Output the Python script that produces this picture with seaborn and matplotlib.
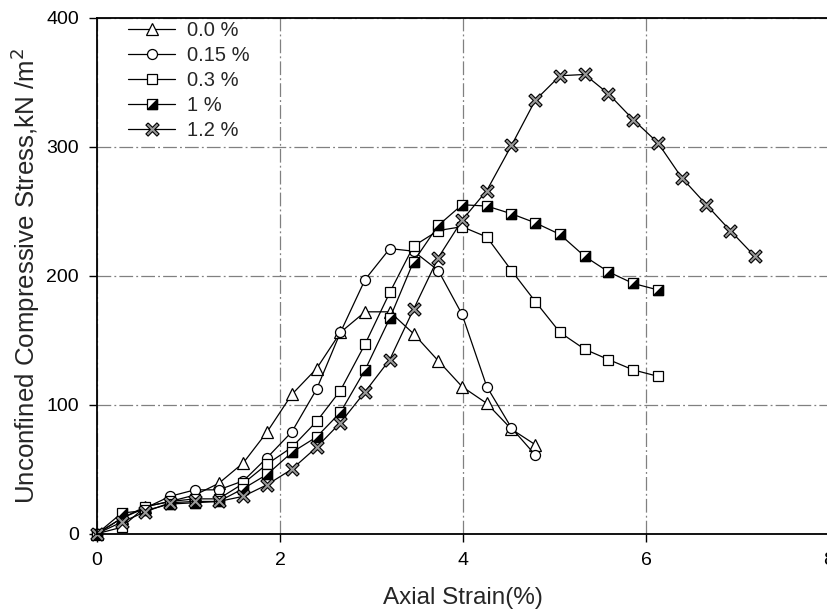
import numpy as np
import matplotlib
matplotlib.use("Agg")
import matplotlib.pyplot as plt
import seaborn as sns
from matplotlib.lines import Line2D

# ---- data ----
strain = [0.00, 0.27, 0.53, 0.80, 1.07, 1.33, 1.60, 1.86, 2.13, 2.40, 2.66, 2.93,
          3.20, 3.46, 3.73, 3.99, 4.26, 4.53, 4.79, 5.06, 5.33, 5.59, 5.86, 6.13,
          6.39, 6.66, 6.92, 7.19]
labels = ["0.0 %", "0.15 %", "0.3 %", "1 %", "1.2 %"]
stress_0_0 = [0, 12, 21, 25, 30, 39, 55, 79, 108, 128, 156, 172, 172, 155, 134,
              114, 101, 81, 69]
stress_0_15 = [0, 12, 20, 29, 34, 34, 41, 59, 79, 112, 156, 197, 221, 219, 204,
               170, 114, 82, 61]
stress_0_3 = [0, 5, 21, 25, 27, 27, 39, 54, 67, 87, 111, 147, 187, 223, 235, 238,
              230, 204, 180, 156, 143, 135, 127, 122]
stress_1 = [0, 16, 18, 23, 24, 25, 35, 46, 63, 75, 94, 127, 167, 211, 239, 255,
            254, 248, 241, 232, 215, 203, 194, 189]
stress_1_2 = [0, 9, 17, 24, 25, 25, 29, 38, 50, 67, 86, 110, 135, 174, 214, 243,
              266, 301, 336, 355, 356, 341, 321, 303, 276, 255, 235, 215]
x_ticks = [0, 2, 4, 6, 8]
y_ticks = [0, 100, 200, 300, 400]

sns.set_style("ticks")
plt.rcParams["font.family"] = ["Liberation Sans", "DejaVu Sans"]

fig = plt.figure(figsize=(8.28, 6.13), dpi=100)
ax = fig.add_axes([97 / 828, (613 - 533.7) / 613, 732 / 828, 516 / 613])

# custom markers
tri_lr = [(-1, -1), (1, -1), (1, 1), (-1, -1)]
a = 0.2
plus = np.array([(a, 1), (a, a), (1, a), (1, -a), (a, -a), (a, -1), (-a, -1),
                 (-a, -a), (-1, -a), (-1, a), (-a, a), (-a, 1), (a, 1)])
c, s = np.cos(np.pi / 4), np.sin(np.pi / 4)
xmark = [(c * px - s * py, s * px + c * py) for px, py in plus]

lw = 0.9
mew = 0.9
common = dict(color="black", linewidth=lw, markeredgecolor="black",
              markeredgewidth=mew, clip_on=False, legend=False, errorbar=None,
              sort=False)

sns.lineplot(x=strain[:len(stress_0_0)], y=stress_0_0, marker="^", markersize=8,
             markerfacecolor="white", ax=ax, **common)
sns.lineplot(x=strain[:len(stress_0_15)], y=stress_0_15, marker="o", markersize=7.2,
             markerfacecolor="white", ax=ax, **common)
sns.lineplot(x=strain[:len(stress_0_3)], y=stress_0_3, marker="s", markersize=7.3,
             markerfacecolor="white", ax=ax, **common)
sns.lineplot(x=strain[:len(stress_1)], y=stress_1, marker="s", markersize=7.3,
             markerfacecolor="white", ax=ax, **common)
sns.lineplot(x=strain[:len(stress_1)], y=stress_1, marker=tri_lr, markersize=7.3,
             markerfacecolor="black", linestyle="none", ax=ax,
             **{k: v for k, v in common.items() if k not in ("linewidth",)},
             linewidth=0)
sns.lineplot(x=strain[:len(stress_1_2)], y=stress_1_2, marker=xmark, markersize=9.5,
             markerfacecolor="0.6", ax=ax,
             **{k: v for k, v in common.items() if k != "markeredgewidth"},
             markeredgewidth=0.8)

ax.set_xlim(0, 8)
ax.set_ylim(0, 400)
ax.set_xticks(x_ticks)
ax.set_yticks(y_ticks)
ax.set_xticklabels([str(t) for t in x_ticks])
ax.set_yticklabels([str(t) for t in y_ticks])

ax.grid(True, linestyle=(0, (11, 2.5, 1.5, 2.5)), color="#808080", linewidth=0.9)
ax.set_axisbelow(True)
for sp in ax.spines.values():
    sp.set_visible(True)
    sp.set_linewidth(1.3)
    sp.set_color("black")

ax.tick_params(direction="out", length=6, width=1.0, labelsize=14, pad=7,
               colors="black")
ax.set_xlabel("Axial Strain(%)", fontsize=17.5, labelpad=13)
ax.set_ylabel("Unconfined Compressive Stress,kN /m$^2$", fontsize=18.6, labelpad=3)

# legend
def mk(marker, ms, fc, mew_=mew):
    return Line2D([0], [0], color="black", linewidth=lw, marker=marker,
                  markersize=ms, markerfacecolor=fc, markeredgecolor="black",
                  markeredgewidth=mew_)
h0 = mk("^", 8, "white")
h1 = mk("o", 7.2, "white")
h2 = mk("s", 7.3, "white")
h3 = (mk("s", 7.3, "white"),
      Line2D([0], [0], linestyle="none", marker=tri_lr, markersize=7.3,
             markerfacecolor="black", markeredgecolor="black",
             markeredgewidth=mew))
h4 = mk(xmark, 9.5, "0.6", 0.8)
ax.legend([h0, h1, h2, h3, h4], labels, loc="upper left",
          bbox_to_anchor=((128 - 97) / 732, (533.7 - 21) / 516),
          frameon=False, fontsize=14.5, numpoints=1, handlelength=2.35,
          handletextpad=0.6, labelspacing=0.3, borderpad=0, borderaxespad=0)

fig.savefig("out.png", dpi=100)
